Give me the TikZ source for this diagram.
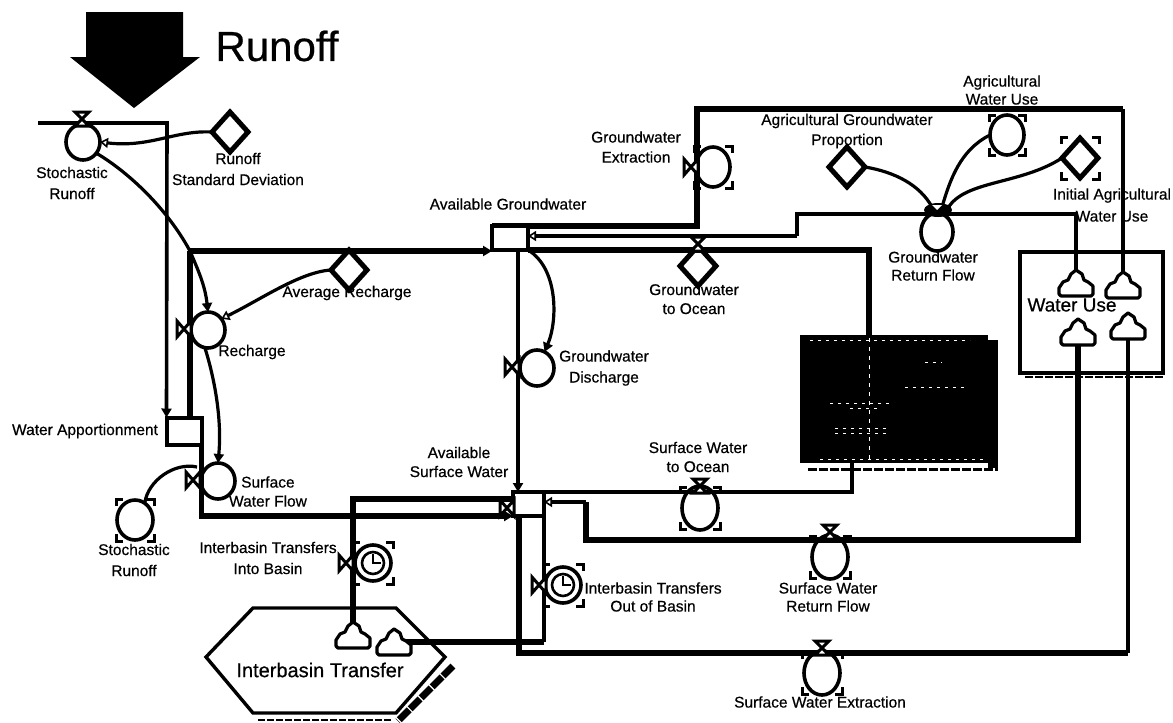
\documentclass[tikz,border=0pt]{standalone}
\usepackage{fontspec}
\setmainfont{Liberation Sans}[RawFeature={embolden=0.5}]
\usetikzlibrary{arrows.meta,shapes.geometric}
\tikzset{
  flowa/.style={line width=5.2pt,line cap=butt,line join=miter},
  flowb/.style={line width=3.6pt,line join=miter},
  conn/.style={line width=3.2pt},
  tipo/.style={-{Triangle[open,fill=white,length=8pt,width=10pt,line width=1.6pt]}},
  tipd/.style={-{Triangle[length=9pt,width=10pt]}},
  lab/.style={font=\fontsize{15.5}{17}\selectfont,inner sep=0pt,align=center},
  conv/.style={draw,ellipse,line width=3.6pt,fill=white,inner sep=0pt,minimum width=34pt,minimum height=36pt,outer sep=0pt},
  para/.style={draw,diamond,line width=5pt,fill=white,inner sep=0pt,minimum width=36pt,minimum height=40pt,outer sep=0pt},
  stockb/.style={draw,rectangle,line width=4pt,fill=white,inner sep=0pt,outer sep=0pt},
  pics/valveh/.style={code={\draw[line width=3pt,fill=white,line join=miter] (-7,-7)--(7,-7)--(-7,7)--(7,7)--cycle;}},
  pics/valvev/.style={code={\draw[line width=3pt,fill=white,line join=miter] (-7,-8)--(-7,8)--(7,-8)--(7,8)--cycle;}},
  pics/cloudicon/.style={code={\draw[line width=3.2pt,fill=white,line join=round]
     (-15,13) -- (15,13) -- (17,11) -- (17,3) -- (12,-1) -- (8,-3) -- (6,-9) -- (0,-13)
     -- (-5,-9) -- (-8,-3) -- (-13,-1) -- (-17,5) -- (-17,11) -- cycle;}},
  pics/brk/.style n args={2}{code={
     \draw[line width=3pt,line cap=butt,line join=miter]
       (-#1,-#2+7)--(-#1,-#2)--(-#1+7,-#2) (#1-7,-#2)--(#1,-#2)--(#1,-#2+7)
       (-#1,#2-7)--(-#1,#2)--(-#1+7,#2) (#1-7,#2)--(#1,#2)--(#1,#2-7);}},
  pics/clockface/.style={code={\draw[line width=2.6pt] (0,0) circle[radius=11];
       \draw[line width=2.4pt] (0,-9)--(0,0)--(8,0);}}
}
\begin{document}
\begin{tikzpicture}[x=1pt,y=-1pt]
\useasboundingbox (0,0) rectangle (1173,723);
\fill[white] (0,0) rectangle (1173,723);

% big arrow and title
\fill (86,12) -- (183,12) -- (183,57) -- (200,57) -- (134,108) -- (70,57) -- (86,57) -- cycle;
\node[font=\fontsize{42}{46}\selectfont,inner sep=0pt] (title) at (277,46) {Runoff};

% ocean, water use, hexagon
\node[fill=black,minimum width=188pt,minimum height=128pt,inner sep=0pt,outer sep=0pt] (ocean) at (894,399) {};
\fill (988,340) rectangle (998,468);
\draw[line width=3pt,dash pattern=on 9pt off 2pt] (808,469) -- (998,469);
\foreach \a/\b/\c in {810/340/970,925/362/942,905/387/965,830/403/890,850/408/880,835/428/890,835/433/890,820/459/985}
  \draw[white,line width=.8pt,dash pattern=on 3pt off 5pt] (\a,\b) -- (\c,\b);
\node[draw,line width=3.2pt,minimum width=143pt,minimum height=121pt,inner sep=0pt,outer sep=0pt,fill=white] (wu) at (1091.5,312.5) {};
\draw[line width=2.2pt,dash pattern=on 8pt off 2pt] (1025,377) -- (1163,377);
\coordinate (hxw) at (206,657); \coordinate (hxnw) at (253,608); \coordinate (hxne) at (396,608);
\coordinate (hxe) at (445,657); \coordinate (hxse) at (396,713); \coordinate (hxsw) at (253,713);
\draw[line width=3.4pt,line join=miter] (hxw) -- (hxnw) -- (hxne) -- (hxe) -- (hxse) -- (hxsw) -- cycle;
\draw[line width=7pt,dash pattern=on 14pt off 1.5pt] (453,666) -- (398,721);
\draw[line width=2.5pt,dash pattern=on 7pt off 2pt] (258,720) -- (392,720);

% stocks
\node[stockb,minimum width=35pt,minimum height=27pt] (wa) at (184,431) {};
\node[stockb,minimum width=36pt,minimum height=24pt] (ag) at (510,238) {};
\node[stockb,minimum width=31pt,minimum height=24pt] (as) at (528.5,504) {};

% converters and parameters
\node[conv] (sr) at (83,142) {};
\node[para] (rsd) at (230,132) {};
\node[conv] (rc) at (208,330) {};
\node[para] (avr) at (349,270) {};
\node[conv] (swf) at (218,481) {};
\node[conv,minimum width=36pt,minimum height=40pt] (srg) at (135,520) {};
\node[conv,minimum width=36pt,minimum height=36pt] (cin) at (373,563) {};
\node[conv,minimum width=36pt,minimum height=36pt] (cout) at (563,585) {};
\node[conv] (gd) at (537,368) {};
\node[para] (gto) at (698,266) {};
\node[conv,minimum height=40pt] (gex) at (713,167) {};
\node[para] (agp) at (847,167) {};
\node[conv,minimum height=40pt] (awu) at (1007,135) {};
\node[para] (iaw) at (1080,158) {};
\node[conv,minimum width=32pt,minimum height=38pt] (grf) at (937,232) {};
\node[conv,minimum width=36pt,minimum height=44pt] (swo) at (700,508) {};
\node[conv,minimum width=36pt,minimum height=44pt] (srf) at (830,557) {};
\node[conv,minimum width=36pt,minimum height=44pt] (swe) at (822,673) {};

% clouds
\coordinate (cl1) at (1076,283); \coordinate (cl2) at (1123,285);
\coordinate (cl3) at (1078,332); \coordinate (cl4) at (1128,326);
\coordinate (cl5) at (353,635); \coordinate (cl6) at (394,642);
\coordinate (dotgrf) at (938,210);

% flow corners
\coordinate (srin) at (38,123);   \coordinate (srbend) at (167,123);
\coordinate (hgw) at (190,251);   \coordinate (hgwend) at (492,251);
\coordinate (wadn) at (200,516);  \coordinate (wain) at (513,516);
\coordinate (intop) at (353,499); \coordinate (intopend) at (513,499);
\coordinate (agb1) at (697,226);  \coordinate (agb2) at (697,109);
\coordinate (agb3) at (1123,109);
\coordinate (rt1) at (797,236);   \coordinate (rt2) at (797,214);  \coordinate (rt3) at (1076,214);
\coordinate (oc1) at (869,250);
\coordinate (oc2) at (852,492);
\coordinate (sr1) at (1078,540);  \coordinate (sr2) at (586,540);  \coordinate (sr3) at (586,502);
\coordinate (se1) at (519,653);   \coordinate (se2) at (1128,653);
\coordinate (ib1) at (544,642);
\coordinate (gdbend) at (518,251);

% flows
\draw[flowb,tipd] (srin) -- (srbend) -- (wa.north west);
\draw[flowa] (hgw) -- (wa.north -| hgw);
\draw[flowa,tipd] (hgw) -- (hgwend);
\draw[flowa] (wa.north east) -- (wa.north east |- wadn) -- ++(-2.6,0);
\draw[flowa,tipd] (wa.north east |- wadn) -- (wain);
\draw[flowa] (cl5) -- (intop) -- (intopend);
\draw[flowb,tipd] (gdbend) -- (as.north -| gdbend);
\draw[flowa] (ag.north west) -- (ag.north east) -- (ag.north east -| agb1) -- (agb2) -- (agb3);
\draw[flowb] (agb3) -- (cl2);
\draw[flowb,tipo] (rt1) -- (ag.east |- rt1);
\draw[flowb] (rt1) -- (rt2) -- (rt3) -- (cl1);
\draw[flowa] (ag.south east) -- (ag.south east -| oc1) -- (ocean.north -| oc1);
\draw[flowb] (as.north east) -- (as.north east -| oc2) -- (ocean.south -| oc2);
\draw[flowa] (cl3) -- (sr1) -- (sr2) -- (sr3);
\draw[flowb,tipo] (sr3) -- (as.east |- sr3);
\draw[flowa] (as.south -| se1) -- (se1) -- (se2);
\draw[flowb,tipd] (se2) -- (cl4);
\draw[flowb] (as.south east) -- (ib1);
\draw[flowa,tipo] (ib1) -- (cl6);
\draw[white,line width=.7pt,dash pattern=on 4pt off 5pt] (869,338) -- (869,461);

% redraw stocks' interiors over passing lines
\node[stockb,minimum width=35pt,minimum height=27pt] at (wa) {};
\node[stockb,minimum width=36pt,minimum height=24pt] at (ag) {};
\node[stockb,minimum width=31pt,minimum height=24pt] at (as) {};

% connectors
\draw[conn,tipo] (rsd.west) .. controls (175,130) and (150,148) .. (sr.east);
\draw[conn] (sr.-40) .. controls (125,170) and (165,205) .. (hgw);
\draw[conn,tipd] (hgw) .. controls (198,270) and (205,285) .. (rc.north);
\draw[conn,tipo] (avr.west) .. controls (300,272) and (260,300) .. (rc.40);
\draw[conn,tipd] (rc.-100) .. controls (215,380) and (222,420) .. (swf.north);
\draw[conn] (srg.60) .. controls (148,480) and (175,462) .. (197,467);
\draw[conn,tipd] (ag.south east) .. controls (558,268) and (558,320) .. (gd.65);
\draw[conn] (agp.east) .. controls (895,172) and (920,185) .. (932,207);
\draw[conn] (awu.west) .. controls (960,150) and (950,180) .. (942,207);
\draw[conn] (iaw.west) .. controls (1020,185) and (965,180) .. (948,208);

% valves
\pic at (82,119) {valveh};
\pic at (184,329) {valvev};
\pic at (193,480) {valvev};
\pic at (512,367) {valvev};
\pic at (507,508) {valvev};
\pic at (691,167) {valvev};
\pic at (346,563) {valvev};
\pic at (539,585) {valvev};
\pic at (698,244) {valveh};
\pic at (700,486) {valveh};
\pic at (830,532) {valveh};
\pic at (822,648) {valveh};
\fill (dotgrf) ellipse[x radius=14pt,y radius=7pt];
\fill[white] (932,205) -- (942,205) -- (937,210) -- cycle;

% clouds on top
\pic at (cl1) {cloudicon};
\pic at (cl2) {cloudicon};
\pic at (cl3) {cloudicon};
\pic at (cl4) {cloudicon};
\pic at (cl5) {cloudicon};
\pic at (cl6) {cloudicon};

% ghost and clock decorations
\pic at (135,520) {brk={19}{21}};
\pic at (373,563) {brk={20}{21}};
\pic at (563,585) {brk={20}{21}};
\pic at (713,167) {brk={19}{21}};
\pic at (1007,135) {brk={18}{20}};
\pic at (1080,158) {brk={19}{21}};
\pic at (700,508) {brk={20}{21}};
\pic at (830,557) {brk={20}{21}};
\pic at (822,673) {brk={20}{21}};
\pic at (373,563) {clockface};
\pic at (563,585) {clockface};

% labels
\node[lab] (l1) at (72,183) {Stochastic\\[4pt]Runoff};
\node[lab] (l2) at (238,169) {Runoff\\[4pt]Standard Deviation};
\node[lab] (l3) at (347,293) {Average Recharge};
\node[lab] (l4) at (252,352) {Recharge};
\node[lab] (l5) at (85,431) {Water Apportionment};
\node[lab,anchor=west] (l6) at (241,482) {Surface};
\node[lab] (l7) at (268,501) {Water Flow};
\node[lab] (l8) at (134,560) {Stochastic\\[4pt]Runoff};
\node[lab] (l9) at (268,558) {Interbasin Transfers\\[4pt]Into Basin};
\node[lab] (l10) at (459,462) {Available\\[2pt]Surface Water};
\node[lab] (l11) at (508,204) {Available Groundwater};
\node[lab] (l12) at (636,147) {Groundwater\\[3pt]Extraction};
\node[lab] (l13) at (847,131) {Agricultural Groundwater\\[3pt]Proportion};
\node[lab] (l14) at (1002,90) {Agricultural\\[1pt]Water Use};
\node[lab] (l15) at (1112,205) {Initial Agricultural\\[5pt]Water Use};
\node[lab] (l16) at (933,266) {Groundwater\\[1pt]Return Flow};
\node[lab] (l17) at (694,299) {Groundwater\\[2pt]to Ocean};
\node[lab] (l18) at (604,368) {Groundwater\\[4pt]Discharge};
\node[lab] (l19) at (698,457) {Surface Water\\[2pt]to Ocean};
\node[lab] (l20) at (653,597) {Interbasin Transfers\\[1pt]Out of Basin};
\node[lab] (l21) at (828,597) {Surface Water\\[1pt]Return Flow};
\node[lab] (l22) at (820,702) {Surface Water Extraction};
\node[font=\fontsize{19}{21}\selectfont,inner sep=0pt] (l23) at (1072,305) {Water Use};
\node[font=\fontsize{20}{22}\selectfont,inner sep=0pt] (l24) at (320,670) {Interbasin Transfer};
\end{tikzpicture}
\end{document}
